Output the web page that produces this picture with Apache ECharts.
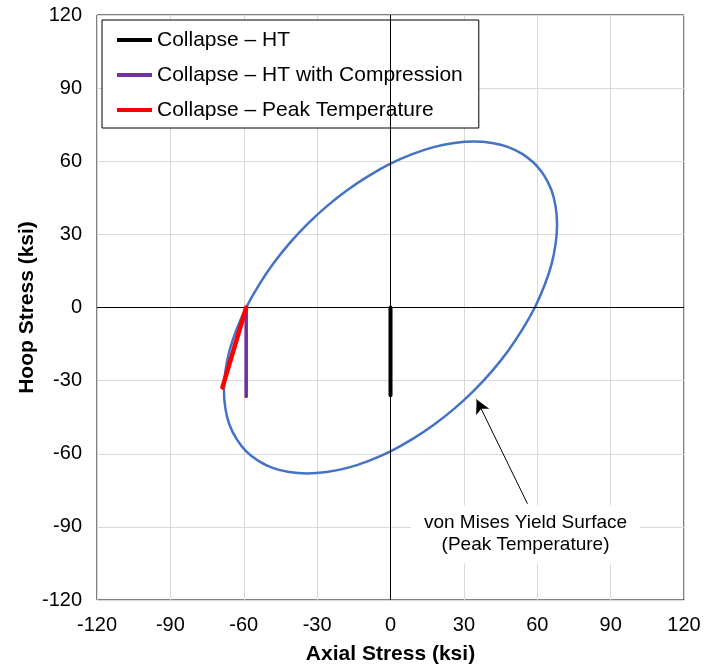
<!DOCTYPE html>
<html>
<head>
<meta charset="utf-8">
<title>Hoop vs Axial Stress</title>
<script src="https://cdn.jsdelivr.net/npm/echarts@6/dist/echarts.min.js"></script>
<style>
  html, body { margin: 0; padding: 0; background: #fff; }
  #chart { width: 704px; height: 670px; }
</style>
</head>
<body>
<div id="chart"></div>
<script>
// Axis ticks (ksi)
const axisTicks = [-120, -90, -60, -30, 0, 30, 60, 90, 120];

// von Mises yield surface at peak temperature (axial, hoop) in ksi
const yieldAxial = [59, 54, 48.2, 41.5, 34.1, 26.1, 17.6, 8.9, 0, -8.9, -17.6, -26.1, -34.1, -41.5, -48.2, -54,
  -59, -62.9, -65.8, -67.5, -68.1, -67.5, -65.8, -62.9, -59, -54, -48.2, -41.5, -34.1, -26.1, -17.6, -8.9,
  0, 8.9, 17.6, 26.1, 34.1, 41.5, 48.2, 54, 59, 62.9, 65.8, 67.5, 68.1, 67.5, 65.8, 62.9, 59];
const yieldHoop = [59, 62.9, 65.8, 67.5, 68.1, 67.5, 65.8, 62.9, 59, 54, 48.2, 41.5, 34.1, 26.1, 17.6, 8.9,
  0, -8.9, -17.6, -26.1, -34.1, -41.5, -48.2, -54, -59, -62.9, -65.8, -67.5, -68.1, -67.5, -65.8, -62.9,
  -59, -54, -48.2, -41.5, -34.1, -26.1, -17.6, -8.9, 0, 8.9, 17.6, 26.1, 34.1, 41.5, 48.2, 54, 59];

// Collapse load paths (axial, hoop) in ksi
const htAxial = [0, 0];
const htHoop = [0, -36];
const htCompAxial = [-59, -59];
const htCompHoop = [0, -36.5];
const peakAxial = [-59, -68.7];
const peakHoop = [0, -32.8];

// Series names
const seriesNames = ['Collapse – HT', 'Collapse – HT with Compression', 'Collapse – Peak Temperature'];
const noteText = 'von Mises Yield Surface\n(Peak Temperature)';
// Annotation arrow: tail near the note, head on the yield surface
const arrowFrom = [56, -80.5];
const arrowTo = [35.2, -37.7];
const noteAt = [55.2, -93];

const pairs = (xs, ys) => xs.map((x, i) => [x, ys[i]]);

const FONT = '"Liberation Sans", Arial, sans-serif';
const chart = echarts.init(document.getElementById('chart'), null, { renderer: 'canvas' });

const axisCommon = {
  type: 'value',
  min: axisTicks[0],
  max: axisTicks[axisTicks.length - 1],
  interval: 30,
  axisLine: { show: false },
  axisTick: { show: false },
  splitLine: { show: true, lineStyle: { color: '#d9d9d9', width: 1 } },
  axisLabel: { fontFamily: FONT, fontSize: 20, color: '#000', margin: 15 },
  nameLocation: 'middle',
  nameMoveOverlap: false,
  nameTextStyle: { fontFamily: FONT, fontSize: 21, fontWeight: 'bold', color: '#000' }
};

chart.setOption({
  animation: false,
  backgroundColor: '#fff',
  grid: {
    left: 97, right: 20, top: 15, bottom: 69,
    show: true, borderColor: '#000', borderWidth: 1, backgroundColor: 'transparent'
  },
  xAxis: Object.assign({}, axisCommon, { name: 'Axial Stress (ksi)', nameGap: 44 }),
  yAxis: Object.assign({}, axisCommon, { name: 'Hoop Stress (ksi)', nameGap: 59 }),
  legend: {
    data: seriesNames,
    orient: 'vertical',
    left: 102,
    top: 20,
    padding: [9, 16, 7, 15],
    itemGap: 13,
    itemWidth: 35,
    itemHeight: 4,
    icon: 'rect',
    backgroundColor: '#fff',
    borderColor: '#000',
    borderWidth: 1,
    borderRadius: 0,
    textStyle: { fontFamily: FONT, fontSize: 21, color: '#000', lineHeight: 22 }
  },
  series: [
    {
      name: 'yield',
      type: 'line',
      data: pairs(yieldAxial, yieldHoop),
      showSymbol: false,
      smooth: 0.3,
      lineStyle: { color: '#4472C4', width: 2.5 },
      z: 2,
      markLine: {
        silent: true,
        symbol: ['none', 'arrow'],
        symbolSize: [11, 14],
        label: { show: false },
        lineStyle: { color: '#000', width: 1, type: 'solid' },
        data: [[{ coord: arrowFrom }, { coord: arrowTo }]]
      }
    },
    {
      name: 'axes',
      type: 'line',
      data: [],
      markLine: {
        silent: true,
        symbol: 'none',
        label: { show: false },
        lineStyle: { color: '#000', width: 1, type: 'solid' },
        data: [{ xAxis: 0 }, { yAxis: 0 }]
      },
      z: 1
    },
    {
      name: seriesNames[0],
      type: 'line',
      data: pairs(htAxial, htHoop),
      showSymbol: false,
      color: '#000000',
      lineStyle: { color: '#000000', width: 4, cap: 'round' },
      z: 5
    },
    {
      name: seriesNames[1],
      type: 'line',
      data: pairs(htCompAxial, htCompHoop),
      showSymbol: false,
      color: '#7030A0',
      lineStyle: { color: '#7030A0', width: 3.5, cap: 'round' },
      z: 5
    },
    {
      name: seriesNames[2],
      type: 'line',
      data: pairs(peakAxial, peakHoop),
      showSymbol: false,
      color: '#FF0000',
      lineStyle: { color: '#FF0000', width: 4.5, cap: 'round' },
      z: 6
    }
  ]
});

// Place the annotation text box in data coordinates
const p = chart.convertToPixel({ gridIndex: 0 }, noteAt);
chart.setOption({
  graphic: [{
    type: 'text',
    x: p[0],
    y: p[1],
    z: 10,
    style: {
      text: noteText,
      font: '19px ' + FONT,
      fill: '#000',
      align: 'center',
      verticalAlign: 'middle',
      lineHeight: 22,
      backgroundColor: '#fff',
      padding: [8, 13, 6, 13]
    }
  }]
});
</script>
</body>
</html>
